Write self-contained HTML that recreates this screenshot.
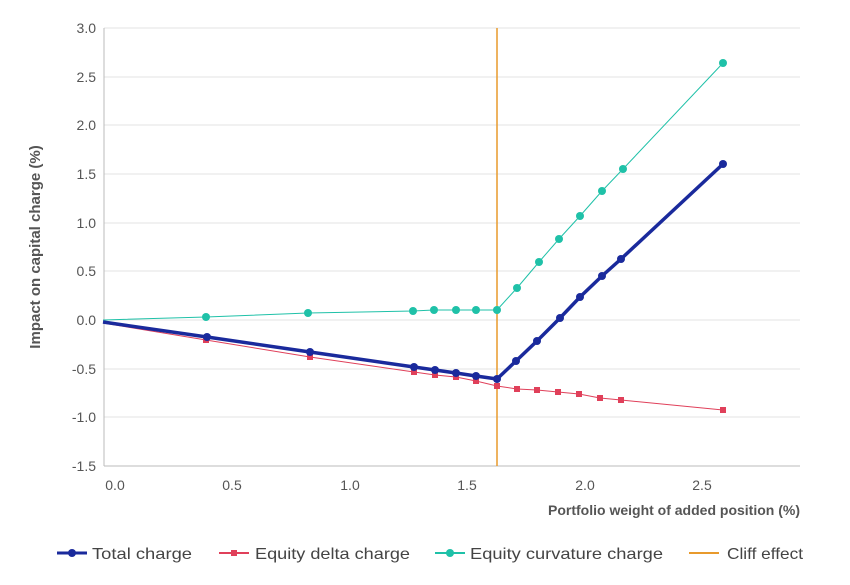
<!DOCTYPE html>
<html><head><meta charset="utf-8"><style>
body{margin:0;background:#fff;font-family:"Liberation Sans",sans-serif;}
</style></head><body>
<svg width="850" height="580" xmlns="http://www.w3.org/2000/svg" font-family="Liberation Sans, sans-serif">
<g stroke="#e3e3e3" stroke-width="1">
<line x1="104" y1="28" x2="800" y2="28"/><line x1="104" y1="77" x2="800" y2="77"/>
<line x1="104" y1="125" x2="800" y2="125"/><line x1="104" y1="174" x2="800" y2="174"/>
<line x1="104" y1="223" x2="800" y2="223"/><line x1="104" y1="271" x2="800" y2="271"/>
<line x1="104" y1="320" x2="800" y2="320"/><line x1="104" y1="369" x2="800" y2="369"/>
<line x1="104" y1="417" x2="800" y2="417"/>
</g>
<line x1="104" y1="466" x2="800" y2="466" stroke="#bbb"/>
<line x1="104" y1="28" x2="104" y2="466" stroke="#bbb"/>
<g font-size="14" fill="#555" text-anchor="end">
<text x="96" y="33">3.0</text><text x="96" y="82">2.5</text><text x="96" y="130">2.0</text>
<text x="96" y="179">1.5</text><text x="96" y="228">1.0</text><text x="96" y="276">0.5</text>
<text x="96" y="325">0.0</text><text x="96" y="374">-0.5</text><text x="96" y="422">-1.0</text>
<text x="96" y="471">-1.5</text>
</g>
<g font-size="14" fill="#555" text-anchor="middle">
<text x="115" y="490">0.0</text><text x="232" y="490">0.5</text><text x="350" y="490">1.0</text>
<text x="467" y="490">1.5</text><text x="585" y="490">2.0</text><text x="702" y="490">2.5</text>
</g>
<text x="800" y="515" font-size="14" font-weight="bold" fill="#555" text-anchor="end">Portfolio weight of added position (%)</text>
<text transform="translate(40,247) rotate(-90)" font-size="15" font-weight="bold" fill="#555" text-anchor="middle">Impact on capital charge (%)</text>
<line x1="497" y1="28" x2="497" y2="466" stroke="#e89a2c" stroke-width="1.5"/>
<g fill="#e0405a" stroke="#e0405a">
<polyline fill="none" stroke-width="1" points="103,323 206,340 310,357 414,372 435,375 456,377 476,381 497,386 517,389 537,390 558,392 579,394 600,398 621,400 723,410"/>
<g stroke="none">
<rect x="203" y="337" width="6" height="6"/><rect x="307" y="354" width="6" height="6"/><rect x="411" y="369" width="6" height="6"/><rect x="432" y="372" width="6" height="6"/><rect x="453" y="374" width="6" height="6"/><rect x="473" y="378" width="6" height="6"/><rect x="494" y="383" width="6" height="6"/><rect x="514" y="386" width="6" height="6"/><rect x="534" y="387" width="6" height="6"/><rect x="555" y="389" width="6" height="6"/><rect x="576" y="391" width="6" height="6"/><rect x="597" y="395" width="6" height="6"/><rect x="618" y="397" width="6" height="6"/><rect x="720" y="407" width="6" height="6"/>
</g></g>
<g fill="#1fc1a8">
<polyline fill="none" stroke="#1fc1a8" stroke-width="1" points="103,320 206,317 308,313 413,311 434,310 456,310 476,310 497,310 517,288 539,262 559,239 580,216 602,191 623,169 723,63"/>
<circle cx="206" cy="317" r="4"/><circle cx="308" cy="313" r="4"/><circle cx="413" cy="311" r="4"/><circle cx="434" cy="310" r="4"/><circle cx="456" cy="310" r="4"/><circle cx="476" cy="310" r="4"/><circle cx="497" cy="310" r="4"/><circle cx="517" cy="288" r="4"/><circle cx="539" cy="262" r="4"/><circle cx="559" cy="239" r="4"/><circle cx="580" cy="216" r="4"/><circle cx="602" cy="191" r="4"/><circle cx="623" cy="169" r="4"/><circle cx="723" cy="63" r="4"/>
</g>
<g fill="#1a2a9c">
<polyline fill="none" stroke="#1a2a9c" stroke-width="3.5" points="103,322 207,337 310,352 414,367 435,370 456,373 476,376 497,379 516,361 537,341 560,318 580,297 602,276 621,259 723,164"/>
<circle cx="207" cy="337" r="4"/><circle cx="310" cy="352" r="4"/><circle cx="414" cy="367" r="4"/><circle cx="435" cy="370" r="4"/><circle cx="456" cy="373" r="4"/><circle cx="476" cy="376" r="4"/><circle cx="497" cy="379" r="4"/><circle cx="516" cy="361" r="4"/><circle cx="537" cy="341" r="4"/><circle cx="560" cy="318" r="4"/><circle cx="580" cy="297" r="4"/><circle cx="602" cy="276" r="4"/><circle cx="621" cy="259" r="4"/><circle cx="723" cy="164" r="4"/>
</g>
<g font-size="16" fill="#444">
<line x1="57" y1="553" x2="87" y2="553" stroke="#1a2a9c" stroke-width="3"/><circle cx="72" cy="553" r="4" fill="#1a2a9c"/>
<text x="92" y="559" textLength="100" lengthAdjust="spacingAndGlyphs">Total charge</text>
<line x1="219" y1="553" x2="249" y2="553" stroke="#e0405a" stroke-width="2"/><rect x="231" y="550" width="6" height="6" fill="#e0405a"/>
<text x="255" y="559" textLength="155" lengthAdjust="spacingAndGlyphs">Equity delta charge</text>
<line x1="435" y1="553" x2="465" y2="553" stroke="#1fc1a8" stroke-width="2"/><circle cx="450" cy="553" r="4" fill="#1fc1a8"/>
<text x="470" y="559" textLength="193" lengthAdjust="spacingAndGlyphs">Equity curvature charge</text>
<line x1="689" y1="553" x2="719" y2="553" stroke="#e89a2c" stroke-width="2"/>
<text x="727" y="559" textLength="76" lengthAdjust="spacingAndGlyphs">Cliff effect</text>
</g>
</svg>
</body></html>
